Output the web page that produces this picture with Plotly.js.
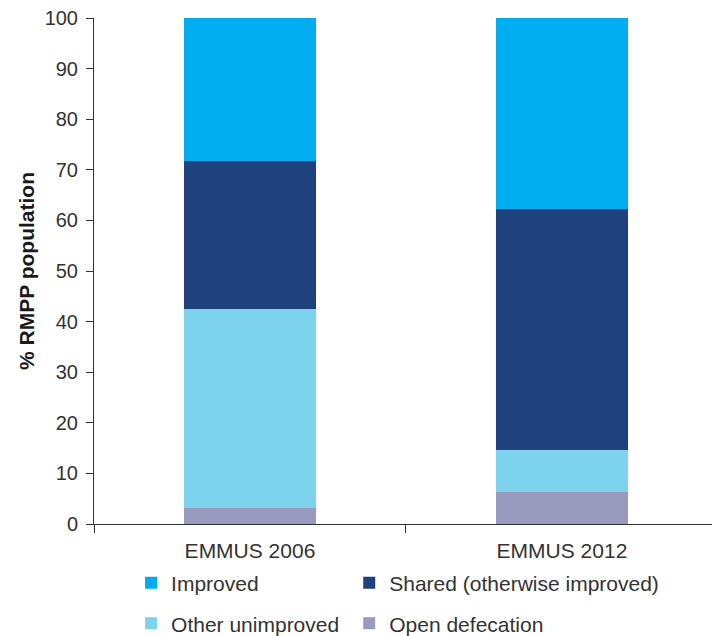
<!DOCTYPE html>
<html>
<head>
<meta charset="utf-8">
<script src="https://cdn.plot.ly/plotly-3.0.1.min.js"></script>
<style>html,body{margin:0;padding:0;background:#fff;}#chart{width:712px;height:636px;}</style>
</head>
<body>
<div id="chart"></div>
<script>
const categories = ["EMMUS 2006", "EMMUS 2012"];
const openDefecation = [3.2, 6.3];
const otherUnimproved = [39.2, 8.3];
const shared = [29.3, 47.6];
const improved = [28.3, 37.8];
const yTicks = [0, 10, 20, 30, 40, 50, 60, 70, 80, 90, 100];

const font = "Liberation Sans, Arial, sans-serif";
const textColor = "#333333";

function bar(name, values, color, legend) {
  return {
    type: "bar", name: name, x: categories, y: values,
    marker: {color: color, line: {width: 0}},
    legend: legend, hoverinfo: "skip"
  };
}

const data = [
  bar("Open defecation", openDefecation, "#989bbd", "legend4"),
  bar("Other unimproved", otherUnimproved, "#7dd3ee", "legend3"),
  bar("Shared (otherwise improved)", shared, "#1f417d", "legend2"),
  bar("Improved", improved, "#00aeef", "legend")
];

function legendAt(x, y) {
  return {
    orientation: "h", xanchor: "left", yanchor: "middle", x: x, y: y,
    font: {family: font, size: 21, color: textColor},
    bgcolor: "rgba(0,0,0,0)", borderwidth: 0
  };
}

const layout = {
  width: 712, height: 636,
  margin: {l: 94, r: 0, t: 18, b: 112, pad: 0, autoexpand: false},
  paper_bgcolor: "#ffffff", plot_bgcolor: "#ffffff",
  barmode: "stack", bargap: 0.574,
  showlegend: true,
  font: {family: font, size: 20, color: textColor},
  xaxis: {
    type: "category", range: [-0.5, 1.481],
    tickson: "boundaries", ticks: "outside", ticklen: 8, tickcolor: "#333333", tickwidth: 1,
    showline: true, linecolor: "#333333", linewidth: 1,
    showgrid: false, zeroline: false, ticklabelstandoff: 8,
    tickfont: {family: font, size: 21, color: textColor}
  },
  yaxis: {
    range: [0, 100], tickvals: yTicks, ticktext: yTicks.map(String),
    ticks: "outside", ticklen: 7, tickcolor: "#333333", tickwidth: 1,
    showline: true, linecolor: "#333333", linewidth: 1,
    showgrid: false, zeroline: false, ticklabelstandoff: 4,
    tickfont: {family: font, size: 20, color: textColor},
    title: {text: "<b>% RMPP population</b>", font: {family: font, size: 21, color: "#1a1a1a"}, standoff: 4}
  },
  legend: legendAt(0.06, -0.117),
  legend2: legendAt(0.413, -0.117),
  legend3: legendAt(0.06, -0.197),
  legend4: legendAt(0.413, -0.197)
};

Plotly.newPlot("chart", data, layout, {staticPlot: true, displayModeBar: false});
</script>
</body>
</html>
